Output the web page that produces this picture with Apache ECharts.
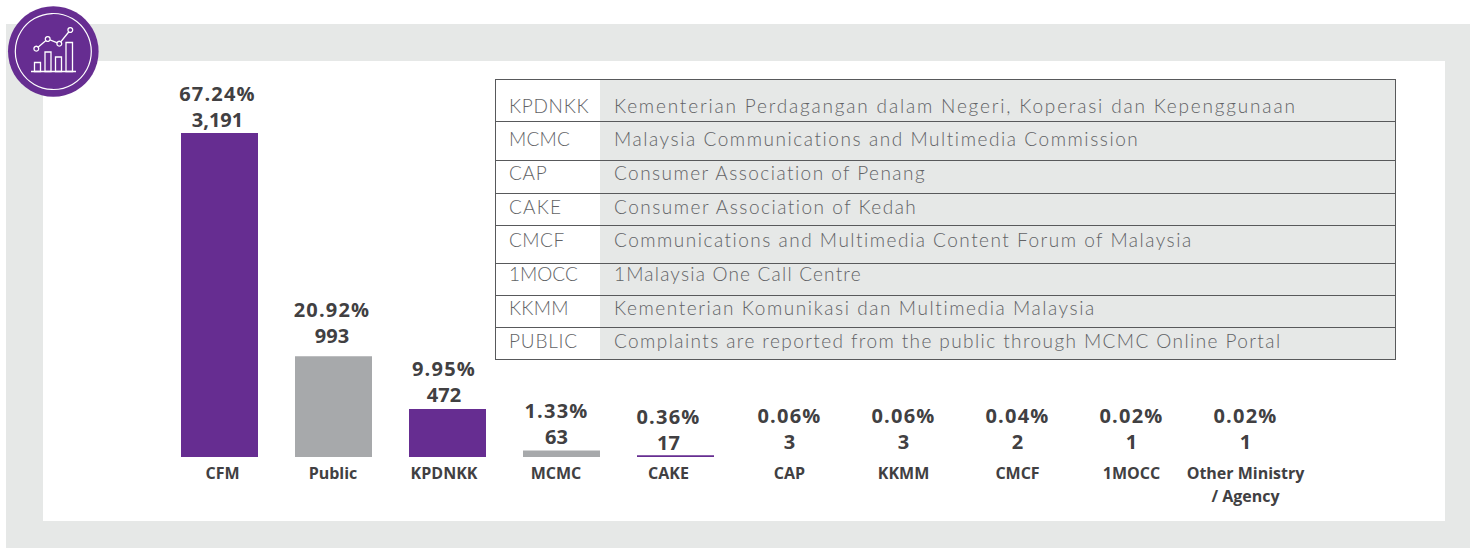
<!DOCTYPE html>
<html><head><meta charset="utf-8">
<style>html,body{margin:0;padding:0;background:#fff}#c{width:1470px;height:549px}</style>
<script src="https://cdn.jsdelivr.net/npm/echarts@6/dist/echarts.min.js"></script>
</head><body><div id="c"></div>
<script>
const categories = ['CFM','Public','KPDNKK','MCMC','CAKE','CAP','KKMM','CMCF','1MOCC','Other Ministry\n/ Agency'];
const counts = [3191,993,472,63,17,3,3,2,1,1];
const countLabels = ['3,191','993','472','63','17','3','3','2','1','1'];
const percents = ['67.24%','20.92%','9.95%','1.33%','0.36%','0.06%','0.06%','0.04%','0.02%','0.02%'];
const barColors = ['#662d91','#a7a9ab','#662d91','#a7a9ab','#662d91','transparent','transparent','transparent','transparent','transparent'];
const valueShiftX = [-2,-1.5,-3.5,-5,-7,0,0,0,0,0];
const valueShiftY = [0,-8,-2,-1,0,-2,-2,-2,-2,-2];
const axisShiftX = [3,-0.5,-3.5,-5.5,-7,0,0,0,0,0];
const abbreviations = ['KPDNKK','MCMC','CAP','CAKE','CMCF','1MOCC','KKMM','PUBLIC'];
const meanings = ['Kementerian Perdagangan dalam Negeri, Koperasi dan Kepenggunaan','Malaysia Communications and Multimedia Commission','Consumer Association of Penang','Consumer Association of Kedah','Communications and Multimedia Content Forum of Malaysia','1Malaysia One Call Centre','Kementerian Komunikasi dan Multimedia Malaysia','Complaints are reported from the public through MCMC Online Portal'];
const abbreviationTracking = [0.7,0.25,0.7,1.2,0.5,0,0.25,0.8];
const meaningTracking = [1.82,1.56,1.45,1.5,1.5,1.2,1.58,1.41];
const percentTracking = 1.2;
const rowLines = [79,121,160,193,225,263,295,327,359];
const rowTextY = [105,138,172,206,239,273,307,340];

const TXT='#414042', PURPLE='#662d91', BG='#e6e8e7', TFONT='Lato', LINE='#58595b', TCOL='#626366';
const chart = echarts.init(document.getElementById('c'),null,{renderer:'svg'});
const rich = {};
categories.forEach((c,i)=>{const d=axisShiftX[i];
  rich['s'+i]={fontFamily:'Open Sans',fontWeight:'bold',fontSize:16,color:TXT,lineHeight:23,
    padding:[0,d<0?-2*d:0,0,d>0?2*d:0]};});
const g=[
  {type:'rect',z:-10,shape:{x:6,y:24,width:1464,height:524},style:{fill:BG}},
  {type:'rect',z:-9,shape:{x:43,y:61,width:1402,height:460},style:{fill:'#fff'}},
  {type:'rect',z:-8,shape:{x:600,y:80,width:795,height:280},style:{fill:BG}}
];
rowLines.forEach(y=>g.push({type:'line',z:-7,shape:{x1:495,y1:y+.5,x2:1396,y2:y+.5},style:{stroke:LINE,lineWidth:1.2}}));
g.push({type:'line',z:-7,shape:{x1:495.5,y1:79,x2:495.5,y2:360},style:{stroke:LINE,lineWidth:1}});
g.push({type:'line',z:-7,shape:{x1:1395.5,y1:79,x2:1395.5,y2:360},style:{stroke:LINE,lineWidth:1}});
abbreviations.forEach((a,i)=>{
  g.push({type:'text',z:-6,x:509,y:rowTextY[i],style:{text:a,fill:TCOL,font:'300 19px '+TFONT,textAlign:'left',textVerticalAlign:'middle'}});
  g.push({type:'text',z:-6,x:614,y:rowTextY[i],style:{text:meanings[i],fill:TCOL,font:'300 19px '+TFONT,textAlign:'left',textVerticalAlign:'middle'}});
});
// icon
const W='#fff';
const pts=[[36.3,48.7],[47.7,39],[59.3,43.7],[70.3,30]];
g.push({type:'circle',z:5,shape:{cx:53.3,cy:51.5,r:45.3},style:{fill:PURPLE}});
g.push({type:'circle',z:6,shape:{cx:53.3,cy:51.5,r:38},style:{fill:'none',stroke:W,lineWidth:1.2}});
[[34.5,62.5,6,9],[45,52,6,19.5],[55.5,57,6,14.5],[66,42.5,6.5,29]].forEach(r=>g.push({type:'rect',z:6,shape:{x:r[0],y:r[1],width:r[2],height:r[3]},style:{fill:'none',stroke:W,lineWidth:1.3}}));
g.push({type:'line',z:6,shape:{x1:31,y1:71.5,x2:76,y2:71.5},style:{stroke:W,lineWidth:1.3}});
g.push({type:'polyline',z:6,shape:{points:pts},style:{fill:'none',stroke:W,lineWidth:1.3}});
pts.forEach(p=>g.push({type:'circle',z:7,shape:{cx:p[0],cy:p[1],r:2.4},style:{fill:PURPLE,stroke:W,lineWidth:1.3}}));

chart.setOption({
  animation:false,
  graphic:{elements:g},
  grid:{left:162.5,width:1140,top:61,height:396,containLabel:false},
  tooltip:{show:false},
  xAxis:{type:'category',data:categories,axisLine:{show:false},axisTick:{show:false},
    axisLabel:{interval:0,margin:4,hideOverlap:false,
      formatter:(v,i)=>v.split('\n').map(t=>`{s${i}|${t}}`).join('\n'),rich}},
  yAxis:{type:'value',min:0,max:3900,show:false,splitLine:{show:false}},
  series:[{type:'bar',barWidth:77,z:2,silent:true,
    data:counts.map((v,i)=>({value:v,itemStyle:{color:barColors[i]},
      label:{offset:[valueShiftX[i],valueShiftY[i]]}})),
    label:{show:true,position:'top',distance:0,fontFamily:'Open Sans',fontWeight:'bold',fontSize:20,color:TXT,lineHeight:26,
      formatter:p=>percents[p.dataIndex]+'\n'+countLabels[p.dataIndex]}}]
});
// The reference's table text and percentages are widely tracked; apply that to the SVG text.
const tracking = new Map();
abbreviations.forEach((t,i)=>tracking.set(t,abbreviationTracking[i]));
meanings.forEach((t,i)=>tracking.set(t,meaningTracking[i]));
percents.forEach(t=>tracking.set(t,percentTracking));
const applyTracking=()=>chart.getDom().querySelectorAll('svg text').forEach(el=>{
  const t=el.textContent, s=tracking.get(t);
  if(s===undefined)return;
  // axis labels repeat some abbreviations but are bold, and stay untracked
  if(/bold/.test(el.getAttribute('style')||'')&&!percents.includes(t))return;
  el.style.letterSpacing=s+'px';
});
applyTracking();
chart.on('finished',applyTracking);
</script></body></html>
